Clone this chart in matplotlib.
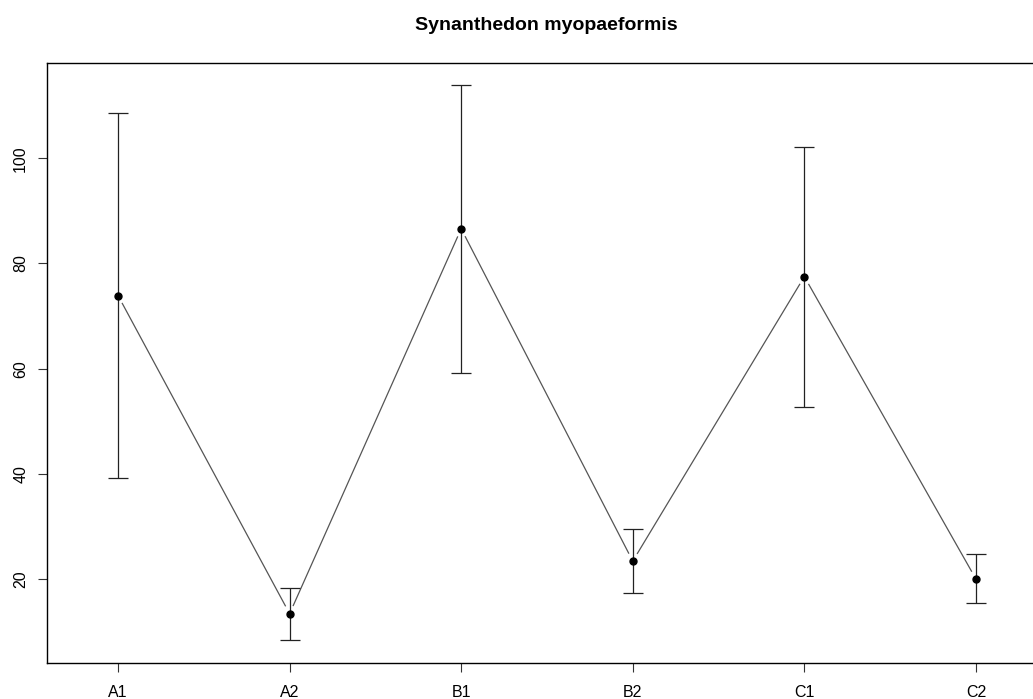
import numpy as np
import matplotlib
matplotlib.use('Agg')
import matplotlib.pyplot as plt

# data
groups = ['A1', 'A2', 'B1', 'B2', 'C1', 'C2']
means = [73.9, 13.4, 86.6, 23.4, 77.5, 20.0]
upper = [108.6, 18.2, 113.9, 29.5, 102.2, 24.8]
lower = [39.2, 8.4, 59.2, 17.4, 52.7, 15.4]
title = 'Synanthedon myopaeformis'

plt.rcParams['font.family'] = ['Liberation Sans', 'DejaVu Sans']

fig = plt.figure(figsize=(10.33, 6.99), dpi=100)
# axes box runs past the right edge (reference is cropped there)
ax = fig.add_axes([47 / 1033, 1 - 663.3 / 699, (1060 - 47) / 1033, (663.3 - 63.3) / 699])

x = np.arange(1, len(groups) + 1)
ax.set_xlim(0.586, 6.49)
ax.set_ylim(3.97, 118.06)

# error bars
ax.errorbar(x, means, yerr=[np.array(means) - np.array(lower), np.array(upper) - np.array(means)],
            fmt='o', color='black', ecolor='#222222', elinewidth=0.9, capsize=7, capthick=0.9,
            markersize=5, zorder=3)

# connecting line with gaps around points (type = "b")
fig.canvas.draw()
pts = ax.transData.transform(np.column_stack([x, means]))
gap = 9
for i in range(len(pts) - 1):
    p0, p1 = pts[i], pts[i + 1]
    d = (p1 - p0) / np.hypot(*(p1 - p0))
    a = ax.transData.inverted().transform(p0 + d * gap)
    b = ax.transData.inverted().transform(p1 - d * gap)
    ax.plot([a[0], b[0]], [a[1], b[1]], color='#555555', lw=0.9, zorder=2)

ax.set_xticks(x)
ax.set_xticklabels(groups)
ax.set_yticks([20, 40, 60, 80, 100])
ax.set_yticklabels(['20', '40', '60', '80', '100'], rotation=90, va='center')
ax.tick_params(axis='both', length=6.5, width=0.8, color='#333333', labelsize=11.5)
ax.tick_params(axis='x', pad=9)
ax.tick_params(axis='y', pad=7)
for s in ax.spines.values():
    s.set_linewidth(1.0)
    s.set_color('black')

fig.text(546 / 1033, 1 - 25 / 699, title, ha='center', va='center',
         fontsize=14, fontweight='bold')

fig.savefig('out.png', dpi=100)
